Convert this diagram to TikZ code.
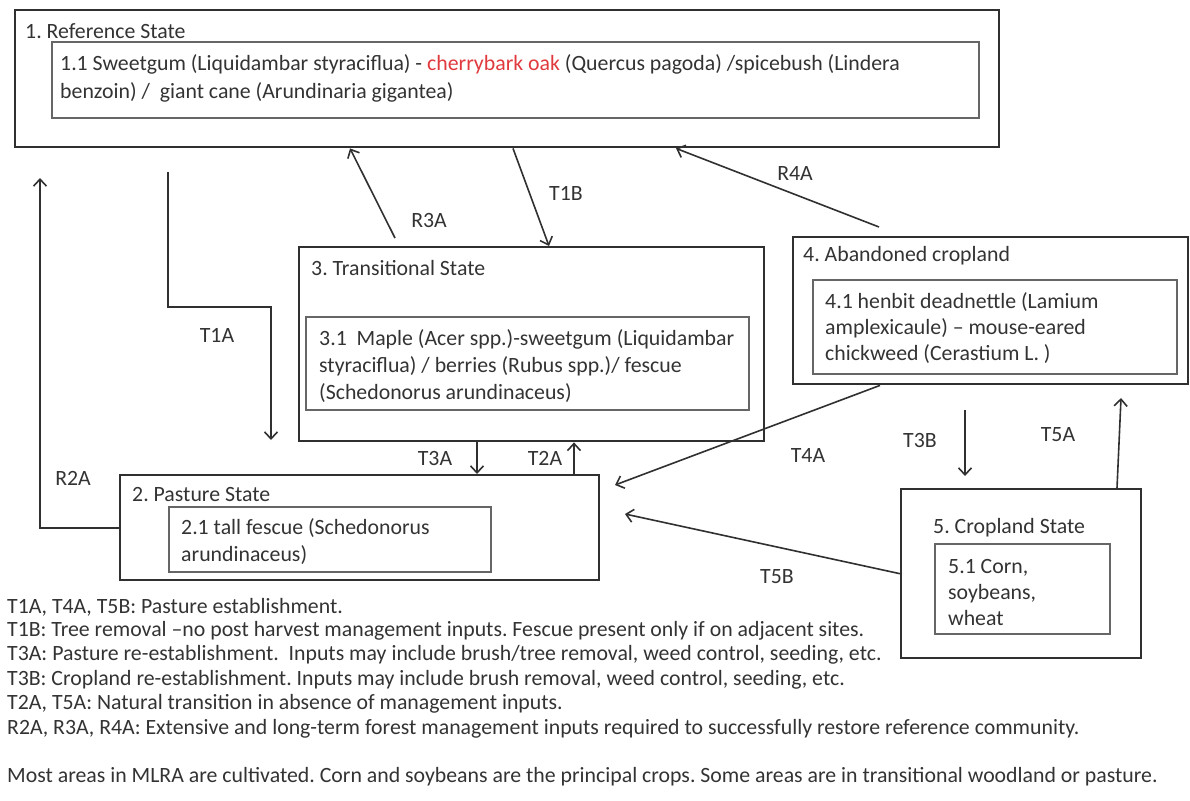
\documentclass[tikz,border=0pt]{standalone}
\usepackage{fontspec}
\setmainfont{Carlito}
\usetikzlibrary{arrows.meta}
\definecolor{ink}{HTML}{303030}
\definecolor{txt}{HTML}{333333}
\definecolor{innerc}{HTML}{666666}
\definecolor{oakred}{HTML}{E0393E}
\begin{document}
\frenchspacing
\begin{tikzpicture}[x=1pt,y=-1pt,
  font=\fontsize{21.8}{27}\selectfont, text=txt,
  outerbox/.style={draw=ink, line width=2.4pt, anchor=north west, inner sep=0pt},
  innerbox/.style={draw=innerc, line width=1.8pt, anchor=north west, inner sep=0pt},
  txtl/.style={inner sep=0pt, anchor=west, align=left},
  tlbl/.style={inner sep=0pt, anchor=center},
  conn/.style={draw=ink, line width=1.6pt},
  arr/.style={conn, -{Straight Barb[length=7pt,width=13pt]}},
]
\useasboundingbox (0,0) rectangle (1190,800);

% ---------- boxes ----------
\node[outerbox, minimum width=984pt, minimum height=137pt] (b1) at (14,9) {};
\node[innerbox, minimum width=927pt, minimum height=76pt] (i1) at (51,41) {};
\node[txtl] (h1) at (25,31) {1. Reference State};
\node[txtl, font=\fontsize{21.8}{28}\selectfont] (x1) at (60,78) {1.1 Sweetgum (Liquidambar styraciflua) - \textcolor{oakred}{cherrybark oak} (Quercus pagoda) /spicebush (Lindera\\benzoin) /~ giant cane (Arundinaria gigantea)};

\node[outerbox, minimum width=465pt, minimum height=194pt] (b3) at (298,246) {};
\node[innerbox, minimum width=443pt, minimum height=93pt] (i3) at (305,316) {};
\node[txtl] (h3) at (311,268) {3. Transitional State};
\node[txtl] (x3) at (319,366) {3.1~ Maple (Acer spp.)-sweetgum (Liquidambar\\styraciflua) / berries (Rubus spp.)/ fescue\\(Schedonorus arundinaceus)};

\node[outerbox, minimum width=395pt, minimum height=147pt] (b4) at (792,236) {};
\node[innerbox, minimum width=364pt, minimum height=94pt] (i4) at (812,279) {};
\node[txtl] (h4) at (803,256) {4. Abandoned cropland};
\node[txtl, font=\fontsize{21.8}{26}\selectfont] (x4) at (825,328) {4.1 henbit deadnettle (Lamium\\amplexicaule) -- mouse-eared\\chickweed (Cerastium L. )};

\node[outerbox, minimum width=479pt, minimum height=105pt] (b2) at (119,474) {};
\node[innerbox, minimum width=322pt, minimum height=65pt] (i2) at (168,506) {};
\node[txtl] (h2) at (132,495) {2. Pasture State};
\node[txtl] (x2) at (181,542) {2.1 tall fescue (Schedonorus\\arundinaceus)};

\node[outerbox, minimum width=240pt, minimum height=169pt] (b5) at (900,488) {};
\node[innerbox, minimum width=175pt, minimum height=90pt] (i5) at (934,543) {};
\node[txtl] (h5) at (933,528) {5. Cropland State};
\node[txtl, font=\fontsize{21.8}{26}\selectfont] (x5) at (948,592) {5.1 Corn,\\soybeans,\\wheat};

% ---------- free ends ----------
\coordinate (t1aS) at (168,172);
\coordinate (t1aK) at (271,307);
\coordinate (t1aE) at (271,440);
\coordinate (r2aE) at (40,178);
\coordinate (r3aS) at (395,238);
\coordinate (r4aS) at (879,227);
\coordinate (t4aE) at (615,485);
\coordinate (t3bS) at (965,410);
\coordinate (t3bE) at (965,476);
\coordinate (t5aE) at (1121,398);
\coordinate (t5bE) at (625,514);

% ---------- connectors ----------
\draw[arr] (t1aS) |- (t1aK) -- (t1aE);
\draw[arr] (b2.west) -| (r2aE);
\draw[arr] (r3aS) -- ([xshift=336pt]b1.south west);
\draw[arr] ([xshift=499pt]b1.south west) -- ([xshift=251pt]b3.north west);
\draw[arr] (r4aS) -- ([xshift=662pt]b1.south west);
\draw[arr] ([xshift=179pt]b3.south west) -- ([xshift=358pt]b2.north west);
\draw[arr] ([xshift=455pt]b2.north west) -- ([xshift=276pt]b3.south west);
\draw[arr] ([xshift=88pt]b4.south west) -- (t4aE);
\draw[arr] (t3bS) -- (t3bE);
\draw[arr] ([xshift=217pt]b5.north west) -- (t5aE);
\draw[arr] (b5.west) -- (t5bE);

% ---------- connector labels ----------
\node[tlbl] (lT1A) at (217,335) {T1A};
\node[tlbl] (lR2A) at (73,478) {R2A};
\node[tlbl] (lR3A) at (429,220) {R3A};
\node[tlbl] (lT1B) at (566,193) {T1B};
\node[tlbl] (lR4A) at (795,173) {R4A};
\node[tlbl] (lT3A) at (435,458) {T3A};
\node[tlbl] (lT2A) at (545,458) {T2A};
\node[tlbl] (lT4A) at (808,455) {T4A};
\node[tlbl] (lT3B) at (920,440) {T3B};
\node[tlbl] (lT5A) at (1058,435) {T5A};
\node[tlbl] (lT5B) at (777,577) {T5B};

% ---------- legend ----------
\node[txtl] (g1) at (7,607) {T1A, T4A, T5B: Pasture establishment.};
\node[txtl] (g2) at (7,631) {T1B: Tree removal --no post harvest management inputs. Fescue present only if on adjacent sites.};
\node[txtl] (g3) at (7,655) {T3A: Pasture re-establishment.~ Inputs may include brush/tree removal, weed control, seeding, etc.};
\node[txtl] (g4) at (7,680) {T3B: Cropland re-establishment. Inputs may include brush removal, weed control, seeding, etc.};
\node[txtl] (g5) at (7,704) {T2A, T5A: Natural transition in absence of management inputs.};
\node[txtl] (g6) at (7,729) {R2A, R3A, R4A: Extensive and long-term forest management inputs required to successfully restore reference community.};
\node[txtl] (g7) at (7,777) {Most areas in MLRA are cultivated. Corn and soybeans are the principal crops. Some areas are in transitional woodland or pasture.};
\end{tikzpicture}
\end{document}
